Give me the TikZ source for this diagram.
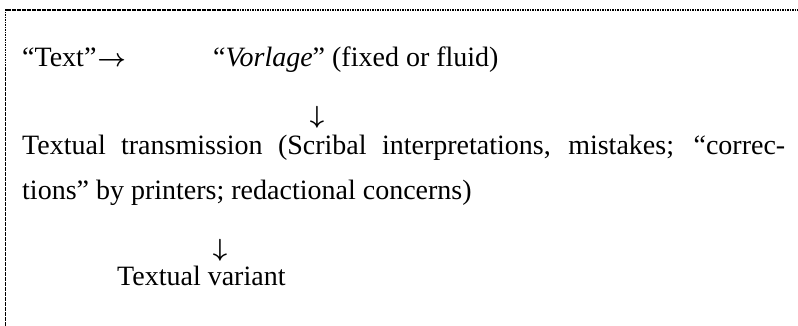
\documentclass[tikz,border=0pt]{standalone}
\usepackage{fontspec}
\setmainfont{Liberation Serif}
\begin{document}
\begin{tikzpicture}[x=1pt,y=1pt,
  txt/.style={anchor=base west,inner sep=0pt,font=\fontsize{28}{34}\selectfont},
  arr/.style={anchor=center,inner sep=0pt,font=\fontsize{23}{27}\selectfont\boldmath},
  frame/.style={line width=1.6pt,dash pattern=on 1.6pt off 0.9pt}]
\useasboundingbox (0,0) rectangle (798,-326);
\draw[frame] (5.5,-326) -- (5.5,-10) -- (798,-10);
\node[txt] (text) at (22,-67) {“Text”\kern1pt{\boldmath$\rightarrow$}};
\node[txt] (vorlage) at (213,-67) {“\textit{Vorlage}” (fixed or fluid)};
\node[arr] (a1) at (317,-117) {$\downarrow$};
\node[txt] (trans1) at (22,-154) {\makebox[763pt][s]{Textual transmission (Scribal interpretations, mistakes; “correc-}};
\node[txt] (trans2) at (22,-200) {tions” by printers; redactional concerns)};
\node[arr] (a2) at (220,-250) {$\downarrow$};
\node[txt] (variant) at (117,-285) {Textual variant};
\end{tikzpicture}
\end{document}
